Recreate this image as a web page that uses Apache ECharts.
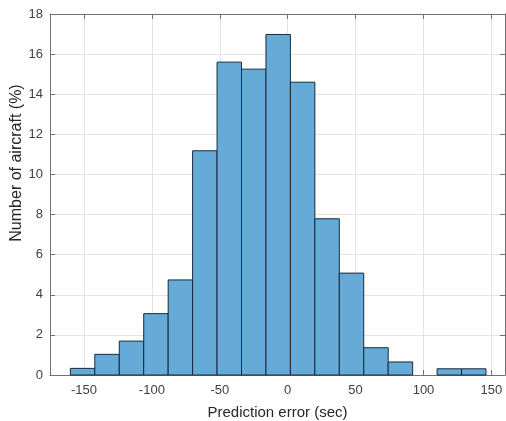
<!DOCTYPE html>
<html><head><meta charset="utf-8">
<script src="https://cdn.jsdelivr.net/npm/echarts@6/dist/echarts.min.js"></script>
<style>html,body{margin:0;padding:0;background:#fff}#c{width:506px;height:421px}</style>
</head><body><div id="c"></div>
<script>
const binEdges = [-160,-142,-124,-106,-88,-70,-52,-34,-16,2,20,38,56,74,92,110,128,146];
const percents = [0.33,1.03,1.69,3.06,4.74,11.18,15.6,15.25,16.98,14.6,7.79,5.08,1.36,0.65,0,0.31,0.31];
const xTicks = [-150,-100,-50,0,50,100,150];
const yTicks = [0,2,4,6,8,10,12,14,16,18];
const xTitle = 'Prediction error (sec)';
const yTitle = 'Number of aircraft (%)';

const data = percents.map((p,i)=>[binEdges[i], binEdges[i+1], p]);
const chart = echarts.init(document.getElementById('c'), null, {renderer:'canvas'});
const font = 'Liberation Sans, Arial, Helvetica, sans-serif';
const axisCol = '#707070';
const tick = {show:true, inside:true, length:5, lineStyle:{color:axisCol}};
chart.setOption({
  animation:false,
  grid:{left:50, right:1, top:14, bottom:46, outerBoundsMode:'none', containLabel:false},
  graphic:[{type:'text', x:17, y:163, rotation:Math.PI/2,
    style:{text:yTitle, fill:'#262626', font:'16px Liberation Sans, Arial, sans-serif',
      align:'center', verticalAlign:'middle'}}],
  xAxis:[
    {type:'value', min:-175, max:160, position:'bottom',
      axisLine:{show:true, onZero:false, lineStyle:{color:axisCol}},
      axisTick:Object.assign({customValues:xTicks}, tick),
      axisLabel:{color:'#404040', fontFamily:font, fontSize:13, margin:9, customValues:xTicks},
      splitLine:{show:true, lineStyle:{color:'#e3e3e3'}},
      name:xTitle, nameLocation:'middle', nameGap:30, nameMoveOverlap:false,
      nameTextStyle:{color:'#262626', fontFamily:font, fontSize:15}},
    {type:'value', min:-175, max:160, position:'top',
      axisLine:{show:true, onZero:false, lineStyle:{color:axisCol}},
      axisTick:Object.assign({customValues:xTicks}, tick),
      axisLabel:{show:false, customValues:xTicks}, splitLine:{show:false}}
  ],
  yAxis:[
    {type:'value', min:0, max:18, interval:2, position:'left',
      axisLine:{show:true, onZero:false, lineStyle:{color:axisCol}},
      axisTick:tick,
      axisLabel:{color:'#404040', fontFamily:font, fontSize:13, margin:7},
      splitLine:{show:true, lineStyle:{color:'#e3e3e3'}}},
    {type:'value', min:0, max:18, interval:2, position:'right',
      axisLine:{show:true, onZero:false, lineStyle:{color:axisCol}},
      axisTick:tick,
      axisLabel:{show:false}, splitLine:{show:false}}
  ],
  series:[{
    type:'custom', xAxisIndex:0, yAxisIndex:0,
    data: data,
    encode:{x:[0,1], y:2},
    renderItem:function(params, api){
      if (api.value(2) <= 0) return null;
      const p0 = api.coord([api.value(0), 0]);
      const p1 = api.coord([api.value(1), api.value(2)]);
      return {type:'rect',
        shape:{x:p0[0], y:p1[1], width:p1[0]-p0[0], height:p0[1]-p1[1]},
        style:{fill:'rgb(102,170,215)', stroke:'#1a2a3a', lineWidth:1}};
    }
  }]
});
</script></body></html>
